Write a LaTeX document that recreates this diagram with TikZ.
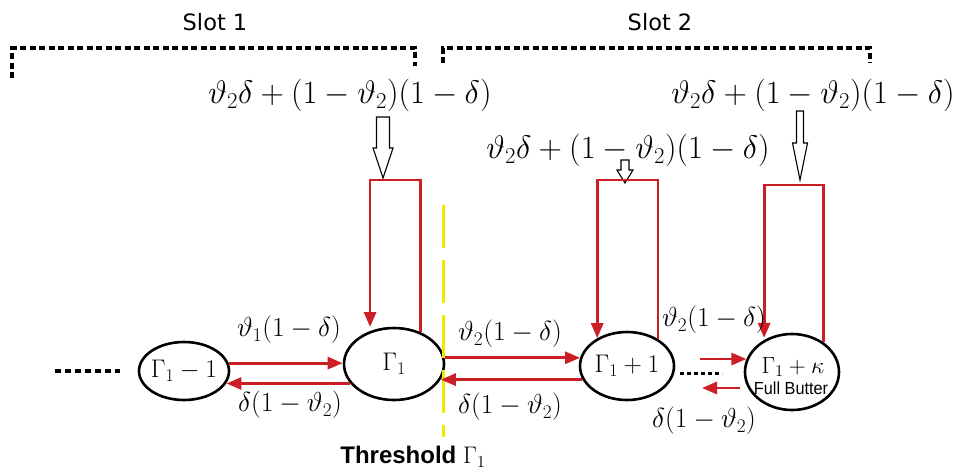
\RequirePackage{fix-cm}
\documentclass[tikz,border=0pt]{standalone}
\usepackage{fontspec}
\newfontfamily\slotfont{DejaVu Sans}
\newfontfamily\arialfont{Liberation Sans}
\usetikzlibrary{arrows.meta,shapes.geometric}
\definecolor{myred}{RGB}{204,30,38}
\definecolor{myyellow}{RGB}{240,232,0}
\begin{document}
\begin{tikzpicture}[x=1pt,y=-1pt,
  state/.style={draw=black, line width=2.6pt, ellipse, inner sep=0pt},
  stlbl/.style={font=\fontsize{25.5}{28}\selectfont, inner sep=0pt},
  redarr/.style={draw=myred, line width=2.8pt, -{Triangle[length=15pt,width=12pt]}},
  lbl/.style={font=\fontsize{27.5}{32}\selectfont, inner sep=0pt},
  formula/.style={font=\fontsize{32.5}{38}\selectfont, inner sep=0pt},
  slotbr/.style={line width=4pt, dash pattern=on 6pt off 3.5pt},
  slottxt/.style={font=\slotfont\fontsize{22.5}{26}\selectfont, inner sep=0pt},
  hollow/.style={draw=black, fill=white, line width=1.1pt, line join=miter},
  dots/.style={line width=3.5pt, dash pattern=on 6pt off 4pt},
]
\useasboundingbox (0,0) rectangle (965,472);

% slot brackets
\coordinate (s1a) at (12,78); \coordinate (s1b) at (12,48);
\coordinate (s1c) at (415,48); \coordinate (s1d) at (415,66);
\draw[slotbr] (s1a) -- (s1b) -- (s1c) -- (s1d);
\coordinate (s2a) at (443,63); \coordinate (s2b) at (443,48);
\coordinate (s2c) at (870,48); \coordinate (s2d) at (870,63);
\draw[slotbr] (s2a) -- (s2b) -- (s2c) -- (s2d);
\node[slottxt] (slot1) at (215,22) {Slot 1};
\node[slottxt] (slot2) at (660,22) {Slot 2};

% formulas
\node[formula] (f1) at (350,95) {$\vartheta_2\delta+(1-\vartheta_2)(1-\delta)$};
\node[formula] (f2) at (628,150) {$\vartheta_2\delta+(1-\vartheta_2)(1-\delta)$};
\node[formula] (f3) at (813,95) {$\vartheta_2\delta+(1-\vartheta_2)(1-\delta)$};

% hollow arrows
\draw[hollow] (376.5,117) -- (389.5,117) -- (389.5,148) -- (393,148) -- (383,178) -- (373,148) -- (376.5,148) -- cycle;
\draw[hollow] (621,160) -- (629,160) -- (629,170) -- (633,170) -- (625,183) -- (617,170) -- (621,170) -- cycle;
\draw[hollow] (796.5,111) -- (803.5,111) -- (803.5,143) -- (807.5,143) -- (800,180) -- (792.5,143) -- (796.5,143) -- cycle;

% states
\node[state, minimum width=90pt, minimum height=58pt,
  label={[stlbl]center:$\Gamma_1-1$}] (gm) at (184,371) {};
\node[state, minimum width=100pt, minimum height=72pt,
  label={[stlbl]center:$\Gamma_1$}] (g1) at (394,364) {};
\node[state, minimum width=94pt, minimum height=68pt,
  label={[stlbl]center:$\Gamma_1+1$}] (gp) at (627,366) {};
\node[state, minimum width=94pt, minimum height=76pt] (gk) at (792,372) {};
\node[inner sep=0pt, font=\fontsize{23.5}{24}\selectfont, anchor=base] (gkt) at (793,373) {$\Gamma_1+\kappa$};
\node[inner sep=0pt, font=\arialfont\fontsize{17.5}{18}\selectfont, anchor=base, xscale=0.93] (gkb) at (791,394) {Full Butter};

% threshold line
\coordinate (y1) at (443,205); \coordinate (y2) at (443,437);
\draw[myyellow, line width=3pt, dash pattern=on 43pt off 12pt] (y1) -- (y2);
\node[font=\arialfont\bfseries\fontsize{24}{28}\selectfont, inner sep=0pt] (thr) at (413,457) {Threshold $\Gamma_1$};

% self loops
\coordinate (t1) at (395,180);
\draw[redarr, shorten >=4pt] (g1.50) |- (t1) -| (g1.126);
\coordinate (t2) at (627,180);
\draw[redarr] (gp.41) |- (t2) -| (gp.137);
\coordinate (t3) at (794,185);
\draw[redarr, shorten >=2pt] (gk.43) |- (t3) -| (gk.131);

% horizontal transitions
\draw[redarr] (gm.10) -- (gm.10 -| g1.west);
\draw[redarr] (g1.204) -- (g1.204 -| gm.344);
\draw[redarr] (g1.7) -- (g1.7 -| gp.170);
\draw[redarr] (gp.197) -- (gp.197 -| g1.342);
\coordinate (u1) at (700,359);
\draw[redarr] (u1) -- (u1 -| gk.164);
\coordinate (l1) at (740,388); \coordinate (l2) at (702,388);
\draw[redarr] (l1) -- (l2);

% dots
\coordinate (d1) at (55,371); \coordinate (d2) at (120,371);
\draw[dots] (d1) -- (d2);
\coordinate (d3) at (680,373); \coordinate (d4) at (722,373);
\draw[line width=3pt, dash pattern=on 4pt off 3pt] (d3) -- (d4);

% labels
\node[lbl] (la) at (289,330) {$\vartheta_1(1-\delta)$};
\node[lbl] (lb) at (290,405) {$\delta(1-\vartheta_2)$};
\node[lbl] (lc) at (510,334) {$\vartheta_2(1-\delta)$};
\node[lbl] (ld) at (510,407) {$\delta(1-\vartheta_2)$};
\node[lbl] (le) at (714,320) {$\vartheta_2(1-\delta)$};
\node[lbl] (lf) at (704,421) {$\delta(1-\vartheta_2)$};
\end{tikzpicture}
\end{document}
